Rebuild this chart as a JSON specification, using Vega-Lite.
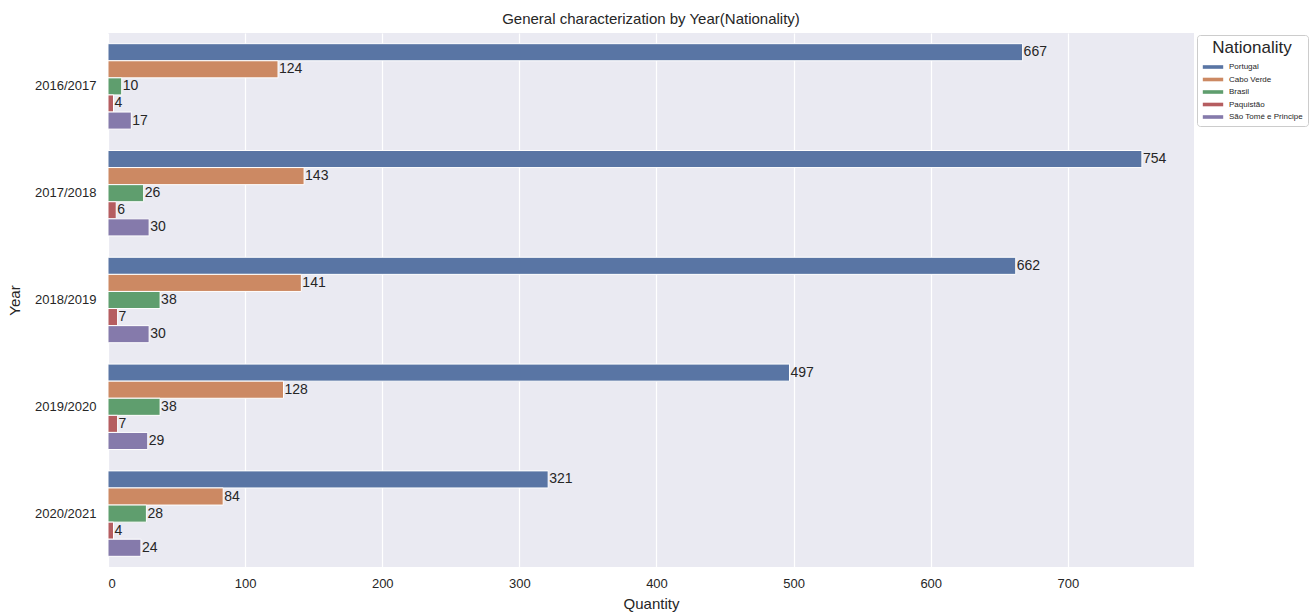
{
  "$schema": "https://vega.github.io/schema/vega-lite/v6.json",
  "width": 1086,
  "height": 534,
  "autosize": {"type": "none"},
  "padding": {"left": 108, "top": 33, "right": 118, "bottom": 46},
  "background": "white",
  "title": {"text": "General characterization by Year(Nationality)", "fontSize": 15, "fontWeight": "normal", "font": "Liberation Sans", "color": "#262626", "offset": 6, "anchor": "middle"},
  "config": {
    "font": "Liberation Sans",
    "view": {"fill": "#EAEAF2", "stroke": null},
    "axis": {"domain": false, "ticks": false, "labelColor": "#262626", "titleColor": "#262626", "labelFontSize": 13, "titleFontSize": 15, "titleFontWeight": "normal", "gridColor": "white", "gridWidth": 1.2}
  },
  "data": {"values": [
    {"Year": "2016/2017", "Nationality": "Portugal", "Quantity": 667},
    {"Year": "2016/2017", "Nationality": "Cabo Verde", "Quantity": 124},
    {"Year": "2016/2017", "Nationality": "Brasil", "Quantity": 10},
    {"Year": "2016/2017", "Nationality": "Paquistão", "Quantity": 4},
    {"Year": "2016/2017", "Nationality": "São Tomé e Principe", "Quantity": 17},
    {"Year": "2017/2018", "Nationality": "Portugal", "Quantity": 754},
    {"Year": "2017/2018", "Nationality": "Cabo Verde", "Quantity": 143},
    {"Year": "2017/2018", "Nationality": "Brasil", "Quantity": 26},
    {"Year": "2017/2018", "Nationality": "Paquistão", "Quantity": 6},
    {"Year": "2017/2018", "Nationality": "São Tomé e Principe", "Quantity": 30},
    {"Year": "2018/2019", "Nationality": "Portugal", "Quantity": 662},
    {"Year": "2018/2019", "Nationality": "Cabo Verde", "Quantity": 141},
    {"Year": "2018/2019", "Nationality": "Brasil", "Quantity": 38},
    {"Year": "2018/2019", "Nationality": "Paquistão", "Quantity": 7},
    {"Year": "2018/2019", "Nationality": "São Tomé e Principe", "Quantity": 30},
    {"Year": "2019/2020", "Nationality": "Portugal", "Quantity": 497},
    {"Year": "2019/2020", "Nationality": "Cabo Verde", "Quantity": 128},
    {"Year": "2019/2020", "Nationality": "Brasil", "Quantity": 38},
    {"Year": "2019/2020", "Nationality": "Paquistão", "Quantity": 7},
    {"Year": "2019/2020", "Nationality": "São Tomé e Principe", "Quantity": 29},
    {"Year": "2020/2021", "Nationality": "Portugal", "Quantity": 321},
    {"Year": "2020/2021", "Nationality": "Cabo Verde", "Quantity": 84},
    {"Year": "2020/2021", "Nationality": "Brasil", "Quantity": 28},
    {"Year": "2020/2021", "Nationality": "Paquistão", "Quantity": 4},
    {"Year": "2020/2021", "Nationality": "São Tomé e Principe", "Quantity": 24}
  ]},
  "encoding": {
    "y": {"field": "Year", "type": "nominal", "title": "Year", "scale": {"paddingInner": 0.2, "paddingOuter": 0.1}, "axis": {"labelPadding": 12, "titlePadding": 12, "grid": false}},
    "yOffset": {"field": "Nationality", "type": "nominal", "sort": ["Portugal", "Cabo Verde", "Brasil", "Paquistão", "São Tomé e Principe"], "scale": {"paddingInner": 0, "paddingOuter": 0}},
    "x": {"field": "Quantity", "type": "quantitative", "title": "Quantity", "scale": {"domain": [0, 792], "nice": false, "zero": true}, "axis": {"values": [0, 100, 200, 300, 400, 500, 600, 700], "labelPadding": 10, "titlePadding": 6, "grid": true}}
  },
  "layer": [
    {
      "mark": {"type": "bar", "stroke": "white", "strokeWidth": 1},
      "encoding": {
        "color": {"field": "Nationality", "type": "nominal", "sort": ["Portugal", "Cabo Verde", "Brasil", "Paquistão", "São Tomé e Principe"],
          "scale": {"domain": ["Portugal", "Cabo Verde", "Brasil", "Paquistão", "São Tomé e Principe"], "range": ["#5975A4", "#CC8963", "#5F9E6E", "#B55D60", "#857AAB"]},
          "legend": {"orient": "none", "legendX": 1089, "legendY": 2, "title": "Nationality", "titleFontSize": 17, "titleFontWeight": "normal", "titleColor": "#262626", "titleAnchor": "middle", "labelFontSize": 8, "labelColor": "#262626", "symbolType": "M-1.7,-0.3H1.7V0.3H-1.7Z", "symbolSize": 144, "symbolStrokeWidth": 0, "symbolOpacity": 1, "symbolOffset": 5, "labelOffset": 10, "rowPadding": 2.5, "fillColor": "white", "strokeColor": "#cccccc", "padding": 5, "cornerRadius": 3, "titlePadding": 4}}
      }
    },
    {
      "mark": {"type": "text", "align": "left", "baseline": "middle", "dx": 1, "fontSize": 14, "color": "#262626"},
      "encoding": {"text": {"field": "Quantity", "type": "quantitative"}}
    }
  ]
}
